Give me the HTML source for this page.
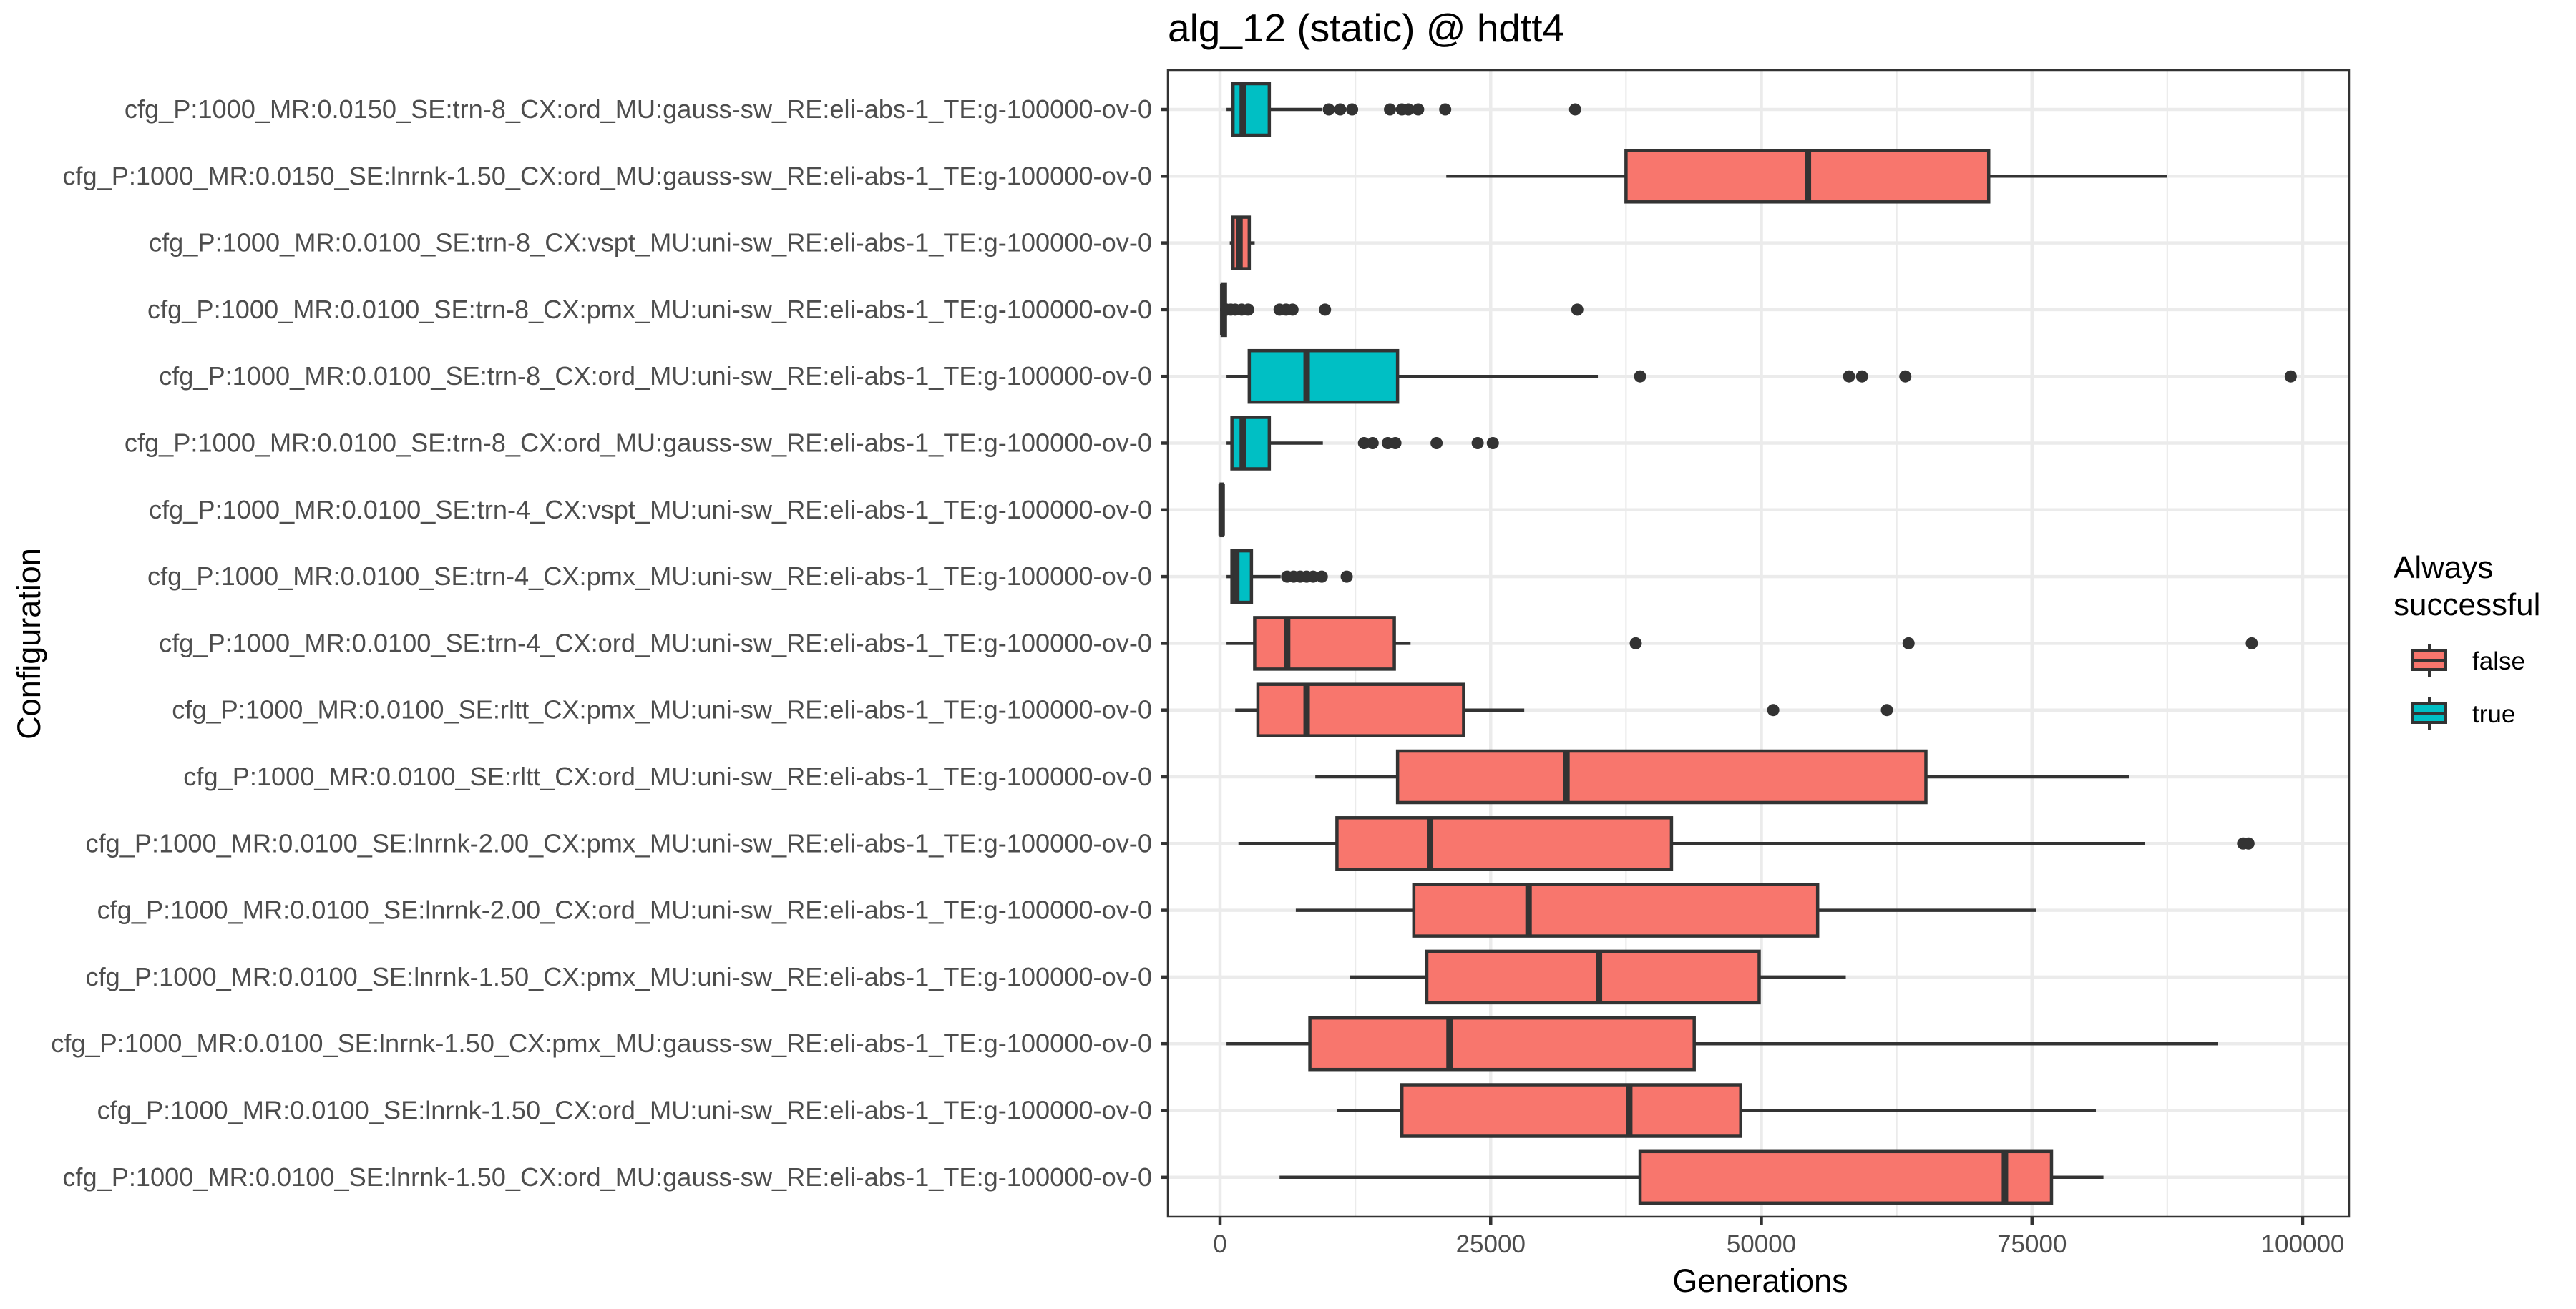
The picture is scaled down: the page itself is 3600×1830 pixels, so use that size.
<!DOCTYPE html>
<html><head><meta charset="utf-8"><style>
html,body{margin:0;padding:0;background:#fff;}
svg{display:block;font-family:"Liberation Sans",sans-serif;}
</style></head><body>
<svg id="chart" width="3600" height="1830" viewBox="0 0 3600 1830">
<rect x="0" y="0" width="3600" height="1830" fill="#fff"/>
<text x="1632" y="58" font-size="55" fill="#000">alg_12 (static) @ hdtt4</text>
<g id="grid"></g><g id="marks"></g><g id="axes"></g>
<text x="2460" y="1806" font-size="45" text-anchor="middle" fill="#000">Generations</text>
<text transform="translate(56,900) rotate(-90)" font-size="45" text-anchor="middle" fill="#000">Configuration</text>
<g>
<text x="3345" y="808" font-size="44" fill="#000">Always</text>
<text x="3345" y="860" font-size="44" fill="#000">successful</text>
<g>
<line x1="3395" y1="900" x2="3395" y2="946" stroke="#333" stroke-width="4"/>
<rect x="3372" y="910" width="46" height="26" fill="#F8766D" stroke="#333" stroke-width="4"/>
<line x1="3372" y1="923" x2="3418" y2="923" stroke="#333" stroke-width="4"/>
<text x="3455" y="936" font-size="35" fill="#000">false</text></g>
<g>
<line x1="3395" y1="974" x2="3395" y2="1020" stroke="#333" stroke-width="4"/>
<rect x="3372" y="984" width="46" height="26" fill="#00BFC4" stroke="#333" stroke-width="4"/>
<line x1="3372" y1="997" x2="3418" y2="997" stroke="#333" stroke-width="4"/>
<text x="3455" y="1010" font-size="35" fill="#000">true</text></g>
</g>
</svg>
<script>
const categories=[
"cfg_P:1000_MR:0.0150_SE:trn-8_CX:ord_MU:gauss-sw_RE:eli-abs-1_TE:g-100000-ov-0",
"cfg_P:1000_MR:0.0150_SE:lnrnk-1.50_CX:ord_MU:gauss-sw_RE:eli-abs-1_TE:g-100000-ov-0",
"cfg_P:1000_MR:0.0100_SE:trn-8_CX:vspt_MU:uni-sw_RE:eli-abs-1_TE:g-100000-ov-0",
"cfg_P:1000_MR:0.0100_SE:trn-8_CX:pmx_MU:uni-sw_RE:eli-abs-1_TE:g-100000-ov-0",
"cfg_P:1000_MR:0.0100_SE:trn-8_CX:ord_MU:uni-sw_RE:eli-abs-1_TE:g-100000-ov-0",
"cfg_P:1000_MR:0.0100_SE:trn-8_CX:ord_MU:gauss-sw_RE:eli-abs-1_TE:g-100000-ov-0",
"cfg_P:1000_MR:0.0100_SE:trn-4_CX:vspt_MU:uni-sw_RE:eli-abs-1_TE:g-100000-ov-0",
"cfg_P:1000_MR:0.0100_SE:trn-4_CX:pmx_MU:uni-sw_RE:eli-abs-1_TE:g-100000-ov-0",
"cfg_P:1000_MR:0.0100_SE:trn-4_CX:ord_MU:uni-sw_RE:eli-abs-1_TE:g-100000-ov-0",
"cfg_P:1000_MR:0.0100_SE:rltt_CX:pmx_MU:uni-sw_RE:eli-abs-1_TE:g-100000-ov-0",
"cfg_P:1000_MR:0.0100_SE:rltt_CX:ord_MU:uni-sw_RE:eli-abs-1_TE:g-100000-ov-0",
"cfg_P:1000_MR:0.0100_SE:lnrnk-2.00_CX:pmx_MU:uni-sw_RE:eli-abs-1_TE:g-100000-ov-0",
"cfg_P:1000_MR:0.0100_SE:lnrnk-2.00_CX:ord_MU:uni-sw_RE:eli-abs-1_TE:g-100000-ov-0",
"cfg_P:1000_MR:0.0100_SE:lnrnk-1.50_CX:pmx_MU:uni-sw_RE:eli-abs-1_TE:g-100000-ov-0",
"cfg_P:1000_MR:0.0100_SE:lnrnk-1.50_CX:pmx_MU:gauss-sw_RE:eli-abs-1_TE:g-100000-ov-0",
"cfg_P:1000_MR:0.0100_SE:lnrnk-1.50_CX:ord_MU:uni-sw_RE:eli-abs-1_TE:g-100000-ov-0",
"cfg_P:1000_MR:0.0100_SE:lnrnk-1.50_CX:ord_MU:gauss-sw_RE:eli-abs-1_TE:g-100000-ov-0"];
const success=[true,false,false,true,true,true,false,true,false,false,false,false,false,false,false,false,false];
const whiskerLo=[600,20900,900,0,600,600,0,600,600,1400,8800,1700,7000,12000,600,10800,5500];
const q1=[1200,37500,1200,200,2700,1100,100,1100,3200,3500,16400,10800,17900,19100,8300,16800,38800];
const median=[2100,54300,1800,300,8000,2100,150,1500,6200,8000,32000,19400,28500,35000,21200,37800,72500];
const q3=[4550,71000,2700,500,16400,4550,250,2900,16100,22500,65200,41700,55200,49800,43800,48100,76800];
const whiskerHi=[9400,87500,3200,700,34900,9500,300,5600,17600,28100,84000,85400,75400,57800,92200,80900,81600];
const outliers=[[10050,11100,12200,15700,16800,17400,18300,20800,32800],[],[],[600,1000,1400,2000,2600,5500,6100,6700,9700,33000],[38800,58100,59300,63300,98900],[13300,14100,15500,16200,20000,23800,25200],[],[6200,6800,7400,8000,8600,9400,11700],[38400,63600,95300],[51100,61600],[],[94500,95000],[],[],[],[],[]];
const xTicks=[0,25000,50000,75000,100000];
const xTickLabels=["0","25000","50000","75000","100000"];

const NS="http://www.w3.org/2000/svg";
const PL=1632,PT=98,PR=3283,PB=1701;
const X=v=>1705+v*(3218-1705)/100000;
const Y=i=>153+i*93.3;
function mk(parent,tag,attrs){const e=document.createElementNS(NS,tag);for(const k in attrs)e.setAttribute(k,attrs[k]);parent.appendChild(e);return e;}
const grid=document.getElementById('grid'),marks=document.getElementById('marks'),axes=document.getElementById('axes');
const bg=mk(grid,'rect',{x:PL,y:PT,width:PR-PL,height:PB-PT,fill:'#fff'});


for(let t=-12500;t<=100000;t+=12500){const major=t%25000===0;const x=X(t);if(x<PL||x>PR)continue;
const l=mk(grid,'line',{x1:x,x2:x,y1:PT,y2:PB,stroke:'#ebebeb','stroke-width':major?4.5:2.2});

}
categories.forEach((c,i)=>{const l=mk(grid,'line',{x1:PL,x2:PR,y1:Y(i),y2:Y(i),stroke:'#ebebeb','stroke-width':4.5});

});
const hh=36;
categories.forEach((c,i)=>{const y=Y(i);const g=mk(marks,'g',{});


mk(g,'line',{x1:X(whiskerLo[i]),x2:X(q1[i]),y1:y,y2:y,stroke:'#333','stroke-width':4.5});
mk(g,'line',{x1:X(q3[i]),x2:X(whiskerHi[i]),y1:y,y2:y,stroke:'#333','stroke-width':4.5});
const w=Math.max(X(q3[i])-X(q1[i]),1);
mk(g,'rect',{x:X(q1[i]),y:y-hh,width:w,height:2*hh,fill:success[i]?'#00BFC4':'#F8766D',stroke:'#333','stroke-width':4.5});
mk(g,'line',{x1:X(median[i]),x2:X(median[i]),y1:y-hh,y2:y+hh,stroke:'#333','stroke-width':9});
outliers[i].forEach(v=>{const p=mk(g,'circle',{cx:X(v),cy:y,r:8.5,fill:'#333'});

});
const lab=mk(axes,'text',{x:PL-22,y:y+12,'font-size':36.2,'text-anchor':'end',fill:'#4d4d4d'});lab.textContent=c;


mk(axes,'line',{x1:PL-10,x2:PL,y1:y,y2:y,stroke:'#333','stroke-width':4.5});
});
const frame=mk(axes,'rect',{x:PL,y:PT,width:PR-PL,height:PB-PT,fill:'none',stroke:'#333','stroke-width':2.5});


xTicks.forEach((t,k)=>{const x=X(t);mk(axes,'line',{x1:x,x2:x,y1:PB,y2:PB+11,stroke:'#333','stroke-width':4.5});
const tl=mk(axes,'text',{x:x,y:PB+50,'font-size':35,'text-anchor':'middle',fill:'#4d4d4d'});tl.textContent=xTickLabels[k];

});
</script>
</body></html>
